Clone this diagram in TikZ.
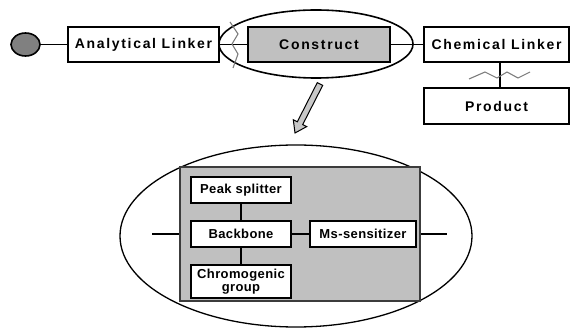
\documentclass[tikz,border=0pt]{standalone}
\usepackage{fontspec}
\setmainfont{Liberation Sans}
\newfontfamily\spacedfont[LetterSpace=12]{Liberation Sans}
\newfontfamily\slightfont[LetterSpace=3]{Liberation Sans}
\usetikzlibrary{shapes.geometric}
\definecolor{boxgrey}{RGB}{192,192,192}
\definecolor{knobgrey}{RGB}{128,128,128}
\definecolor{ziggrey}{RGB}{125,125,125}
\definecolor{arrowgrey}{RGB}{200,200,200}
\definecolor{paneledge}{RGB}{60,60,60}

\begin{document}
\begin{tikzpicture}[x=1pt,y=-1pt,
  topbox/.style={draw, line width=1.6pt, minimum height=35pt, inner sep=0pt,
    font=\spacedfont\bfseries\fontsize{14}{16}\selectfont},
  smallbox/.style={draw, fill=white, line width=1.5pt, minimum width=100pt,
    minimum height=26pt, inner sep=0pt, align=center,
    font=\slightfont\bfseries\fontsize{13}{13.5}\selectfont},
  link/.style={line width=1.4pt},
  zig/.style={ziggrey, line width=1.1pt},
  oval/.style={draw, ellipse, inner sep=0pt}]

\useasboundingbox (0,0) rectangle (570,328);

% upper chain
\node[oval, fill=knobgrey, line width=1.6pt, minimum width=29pt, minimum height=23pt] (knob) at (25.5,44.5) {};
\node[topbox, minimum width=151pt] (al) at (143.5,44.5) {Analytical Linker};
\node[topbox, minimum width=142pt, fill=boxgrey] (con) at (319,44.5) {Construct};
\node[topbox, minimum width=145pt] (cl) at (496.5,44.5) {Chemical Linker};
\node[topbox, minimum width=145pt, minimum height=36pt] (prod) at (496.5,106) {Product};
\node[oval, line width=1.6pt, minimum width=194pt, minimum height=68pt] (hull) at (316,44) {};

\draw[link] (knob.east) -- (al.west);
\draw[link] (al.east) -- (con.west);
\draw[link] (con.east) -- (cl.west);
\draw[link] ([xshift=3.5pt]cl.south) -- ([xshift=3.5pt]prod.north);

% cleavage marks
\draw[zig] (230,22) -- (238,34) -- (232,44) -- (238,54) -- (233,68);
\draw[zig] (469,79) -- (485,72) -- (497,78) -- (507,72) -- (518,78) -- (530,72);

% block arrow into the detail view
\draw[line width=1pt, fill=arrowgrey]
  (322.7,85.4) -- (302.7,124.6) -- (306.7,126.6) -- (295,133)
  -- (293.3,119.8) -- (297.3,121.8) -- (317.3,82.6) -- cycle;

% detail view of the construct
\node[oval, line width=1.3pt, minimum width=352pt, minimum height=182pt] (detail) at (296,236) {};
\node[draw=paneledge, fill=boxgrey, line width=2pt, minimum width=240pt, minimum height=134pt, inner sep=0pt] (panel) at (300,234) {};

\node[smallbox] (peak) at (241,190) {Peak splitter};
\node[smallbox] (back) at (241,234) {Backbone};
\node[smallbox, minimum height=33pt] (chromo) at (241,281.5) {Chromogenic\\group};
\node[smallbox, minimum width=106pt] (ms) at (363,234) {Ms-sensitizer};

\coordinate (stubL) at (152,234);
\coordinate (stubR) at (447,234);

\draw[link] (peak.south) -- (back.north);
\draw[link] (back.south) -- (chromo.north);
\draw[link] (back.east) -- (ms.west);
\draw[link] (stubL) -- (panel.west);
\draw[link] (panel.east) -- (stubR);
\end{tikzpicture}
\end{document}
